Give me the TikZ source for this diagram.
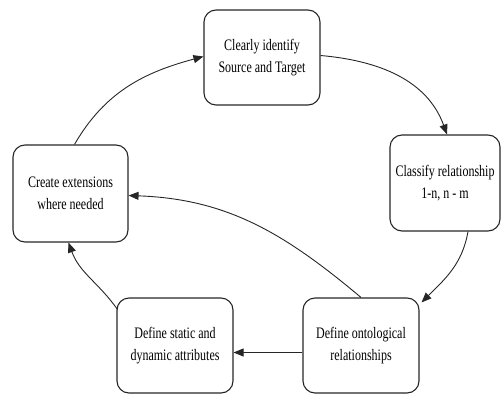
\documentclass[tikz,border=0pt]{standalone}
\usepackage{fontspec}
\setmainfont[FakeStretch=0.75]{Liberation Serif}
\usetikzlibrary{arrows.meta}
\begin{document}
\begin{tikzpicture}[x=1pt,y=1pt,
  stepbox/.style={draw=black!85, line width=1.1pt, rounded corners=12pt,
    minimum width=116pt, minimum height=95pt, inner sep=0pt,
    align=center, font=\fontsize{16}{22}\selectfont},
  flow/.style={draw=black!85, line width=0.9pt,
    -{Triangle[length=10pt,width=8pt]}}]
  \useasboundingbox (0,0) rectangle (502,394);
  % the five steps of the cycle
  \node[stepbox] (b1) at (262,336.5) {Clearly identify\\Source and Target};
  \node[stepbox, minimum width=110pt, minimum height=96pt] (b2) at (445,211) {Classify relationship\\1-n, n - m};
  \node[stepbox, minimum width=115pt, minimum height=97pt] (b3) at (70.5,200.5) {Create extensions\\where needed};
  \node[stepbox] (b4) at (175,48.5) {Define static and\\dynamic attributes};
  \node[stepbox] (b5) at (361,48.5) {Define ontological\\relationships};
  % connectors between the steps
  \draw[flow] ([yshift=2pt]b1.east) to[out=-5,in=110] ([xshift=2pt]b2.north);
  \draw[flow] ([xshift=23pt]b2.south) to[out=-100,in=45] ([xshift=2pt,yshift=-5pt]b5.north east);
  \draw[flow] (b5.north) to[out=140,in=-2] ([yshift=-2pt]b3.east);
  \draw[flow] ([yshift=-7pt]b5.west) -- ([yshift=-7pt]b4.east);
  \draw[flow] ([xshift=1pt,yshift=-12pt]b4.north west) to[out=125,in=-70] ([xshift=-2pt]b3.south);
  \draw[flow] ([xshift=4pt]b3.north) to[out=60,in=195] ([yshift=1pt]b1.west);
\end{tikzpicture}
\end{document}
